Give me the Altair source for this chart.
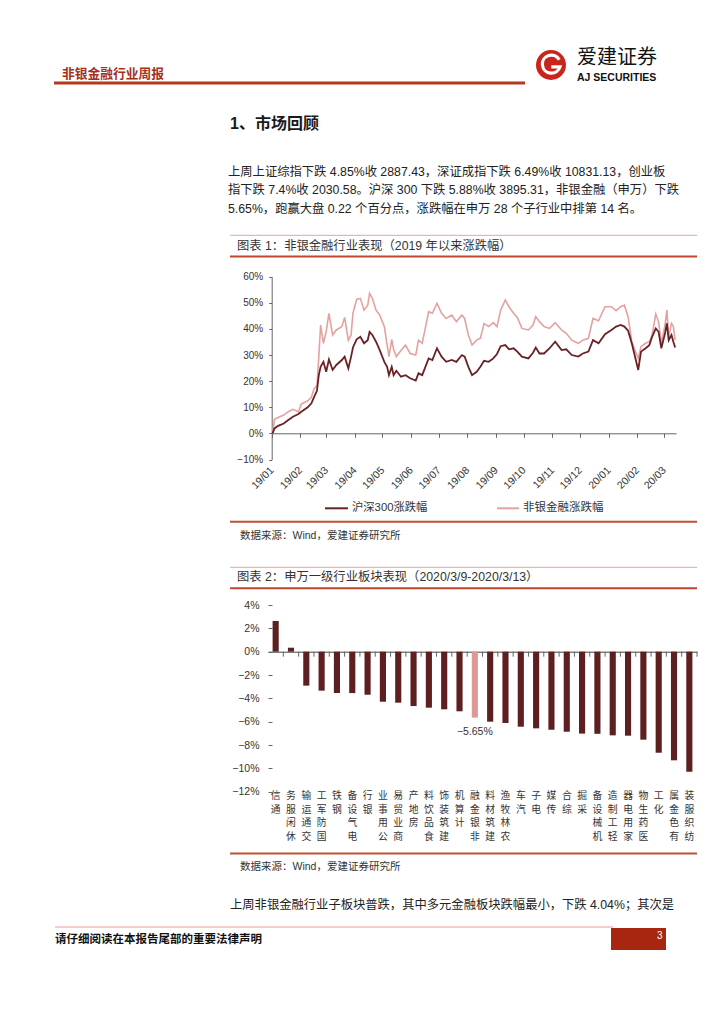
import altair as alt
import pandas as pd

# ---------------- data: chart 1 (cumulative change since 2019, %) ----------------
dates = [
    "2019-01-02", "2019-01-04", "2019-01-08", "2019-01-14", "2019-01-19", "2019-01-24",
    "2019-01-30", "2019-02-02", "2019-02-09", "2019-02-13", "2019-02-16", "2019-02-19",
    "2019-02-21", "2019-02-23", "2019-02-26", "2019-03-01", "2019-03-04", "2019-03-08",
    "2019-03-12", "2019-03-18", "2019-03-21", "2019-03-25", "2019-03-28", "2019-03-30",
    "2019-04-03", "2019-04-07", "2019-04-11", "2019-04-15", "2019-04-17", "2019-04-20",
    "2019-04-24", "2019-04-28", "2019-05-03", "2019-05-06", "2019-05-08", "2019-05-11",
    "2019-05-13", "2019-05-16", "2019-05-21", "2019-05-26", "2019-05-31", "2019-06-06",
    "2019-06-09", "2019-06-13", "2019-06-20", "2019-06-24", "2019-06-29", "2019-07-04",
    "2019-07-09", "2019-07-15", "2019-07-20", "2019-07-26", "2019-07-29", "2019-08-02",
    "2019-08-06", "2019-08-11", "2019-08-15", "2019-08-19", "2019-08-24", "2019-08-29",
    "2019-09-02", "2019-09-06", "2019-09-11", "2019-09-15", "2019-09-20", "2019-09-24",
    "2019-09-29", "2019-10-06", "2019-10-11", "2019-10-14", "2019-10-18", "2019-10-23",
    "2019-10-29", "2019-11-04", "2019-11-11", "2019-11-16", "2019-11-22", "2019-11-29",
    "2019-12-04", "2019-12-10", "2019-12-15", "2019-12-21", "2019-12-28", "2020-01-04",
    "2020-01-09", "2020-01-14", "2020-01-18", "2020-01-22", "2020-01-26", "2020-02-02",
    "2020-02-05", "2020-02-10", "2020-02-14", "2020-02-17", "2020-02-21", "2020-02-24",
    "2020-02-27", "2020-03-02", "2020-03-04", "2020-03-06", "2020-03-09", "2020-03-11",
    "2020-03-13",
]
hs300 = [
    0.0, 1.9, 2.9, 3.8, 5.1, 6.4, 7.4, 8.3, 10.0, 11.5, 14.0, 16.3,
    22.3, 25.5, 27.4, 23.6, 28.3, 24.3, 26.2, 28.1, 29.4, 24.9, 29.4, 32.9,
    36.0, 37.0, 34.5, 35.7, 38.9, 37.7, 35.1, 31.9, 27.4, 25.5, 22.3, 25.5,
    22.3, 24.0, 21.7, 22.3, 21.1, 20.2, 23.0, 22.3, 28.7, 28.1, 32.6, 29.4,
    27.4, 28.1, 27.4, 30.0, 29.4, 25.5, 22.3, 23.6, 25.5, 27.8, 27.4, 28.7,
    30.4, 33.4, 33.8, 32.2, 32.6, 31.3, 29.4, 28.7, 30.9, 32.9, 30.6, 30.6,
    32.6, 35.1, 31.9, 32.2, 30.0, 29.4, 30.6, 31.3, 35.7, 34.5, 38.0, 39.6,
    40.9, 41.5, 40.9, 39.3, 34.5, 24.3, 31.3, 32.6, 33.8, 37.0, 40.2, 38.9,
    32.6, 38.3, 42.1, 35.7, 37.7, 35.1, 32.9,
]
nonbank = [
    0.0, 5.4, 6.1, 7.0, 8.3, 9.2, 8.3, 11.2, 12.5, 13.8, 17.2, 18.1,
    29.4, 41.5, 34.5, 38.9, 46.0, 37.7, 39.6, 40.9, 44.4, 35.7, 37.7, 46.0,
    51.3, 51.7, 47.2, 49.1, 53.6, 51.7, 47.2, 45.3, 40.9, 33.8, 29.4, 36.0,
    32.2, 29.4, 31.7, 33.8, 30.6, 30.0, 35.7, 34.5, 46.6, 46.0, 49.8, 46.0,
    44.0, 45.3, 42.8, 45.3, 44.0, 37.7, 33.8, 35.7, 36.4, 42.1, 40.9, 42.4,
    40.9, 47.2, 51.1, 48.5, 46.0, 44.4, 40.2, 39.6, 41.5, 44.7, 42.8, 40.9,
    40.2, 42.4, 39.6, 38.3, 35.7, 34.5, 35.7, 36.4, 44.0, 43.1, 48.5, 48.5,
    47.0, 48.5, 49.1, 44.7, 35.1, 28.7, 33.2, 34.5, 35.1, 37.7, 45.7, 42.8,
    34.5, 41.5, 47.2, 37.0, 42.1, 40.9, 35.7,
]
series_hs = "沪深300涨跌幅"
series_nb = "非银金融涨跌幅"
y1_ticks = [-10, 0, 10, 20, 30, 40, 50, 60]
month_starts = [(2019, m) for m in range(1, 13)] + [(2020, 1), (2020, 2), (2020, 3)]

# ---------------- data: chart 2 (weekly change by SW industry, %) ----------------
industries = [
    "通信", "休闲服务", "交通运输", "国防军工", "钢铁", "电气设备", "银行",
    "公用事业", "商业贸易", "房地产", "食品饮料", "建筑装饰", "计算机", "非银金融",
    "建筑材料", "农林牧渔", "汽车", "电子", "传媒", "综合", "采掘",
    "机械设备", "轻工制造", "家用电器", "医药生物", "化工", "有色金属", "纺织服装",
]
changes = [
    2.63, 0.34, -2.91, -3.34, -3.54, -3.55, -3.69,
    -4.29, -4.37, -4.66, -4.80, -4.94, -5.11, -5.65,
    -6.00, -6.11, -6.43, -6.57, -6.69, -6.86, -7.02,
    -7.04, -7.17, -7.20, -7.54, -8.66, -9.31, -10.29,
]
highlight = "非银金融"
y2_ticks = [-12, -10, -8, -6, -4, -2, 0, 2, 4]

# ---------------- page texts ----------------
header_title = "非银金融行业周报"
logo_cn = "爱建证券"
logo_en = "AJ SECURITIES"
section_title = "1、市场回顾"
para_lines = [
    "上周上证综指下跌 4.85%收 2887.43，深证成指下跌 6.49%收 10831.13，创业板",
    "指下跌 7.4%收 2030.58。沪深 300 下跌 5.88%收 3895.31，非银金融（申万）下跌",
    "5.65%，跑赢大盘 0.22 个百分点，涨跌幅在申万 28 个子行业中排第 14 名。",
]
caption1 = "图表 1：非银金融行业表现（2019 年以来涨跌幅）"
caption2 = "图表 2：申万一级行业板块表现（2020/3/9-2020/3/13）"
source_text = "数据来源：Wind，爱建证券研究所"
para2 = "上周非银金融行业子板块普跌，其中多元金融板块跌幅最小，下跌 4.04%；其次是"
footer_text = "请仔细阅读在本报告尾部的重要法律声明"
page_no = "3"

# ---------------- styles ----------------
FONT = "Liberation Sans, Noto Sans CJK SC"
CJK = "Noto Sans CJK SC"
DARK = "#6A2126"
LIGHT = "#E3A29F"
BAR = "#5E1F21"
BAR_HL = "#DE9896"
BRICK = "#B5391F"
AXIS = "#666666"
TXT = "#222222"
W, H = 708, 1008


def gx(v):
    return v - 8


def gy(v):
    return v - 8


# ---------------- chart 1 ----------------
rows = []
for d, a, b in zip(dates, hs300, nonbank):
    rows.append({"date": d, "value": a, "series": series_hs})
    rows.append({"date": d, "value": b, "series": series_nb})
df1 = pd.DataFrame(rows)

x1 = alt.X(
    "date:T",
    scale=alt.Scale(
        type="utc",
        domain=[alt.DateTime(year=2019, month=1, date=1, utc=True),
                alt.DateTime(year=2020, month=3, date=14, utc=True)],
        range=[gx(271.7), gx(676.1)],
    ),
    axis=alt.Axis(
        orient="bottom", offset=gy(433.3) - H, title="",
        values=[alt.DateTime(year=y, month=m, date=1, utc=True) for y, m in month_starts],
        format="%y/%m", labelAngle=-45, labelAlign="right", labelBaseline="middle",
        labelPadding=31, labelFontSize=10.5, labelColor="#333", labelFont=FONT,
        labelOverlap=False, labelFlush=False, labelBound=False,
        grid=False, domainColor=AXIS, domainWidth=1, tickColor=AXIS, tickSize=4, tickWidth=1,
    ),
)
y1 = alt.Y(
    "value:Q",
    scale=alt.Scale(domain=[-10, 60], range=[gy(459.5), gy(276.7)], nice=False, zero=False),
    axis=alt.Axis(
        orient="left", offset=-gx(271.7), title="", values=y1_ticks,
        labelExpr="format(datum.value, 'd') + '%'", labelFontSize=10, labelColor="#333",
        labelFont=FONT, labelPadding=6, grid=False, domainColor=AXIS, domainWidth=1,
        tickColor=AXIS, tickSize=3, labelOverlap=False, labelFlush=False, labelBound=False,
    ),
)
line_nb = alt.Chart(df1).transform_filter(alt.datum.series == series_nb).mark_line(
    color=LIGHT, strokeWidth=1.6).encode(x=x1, y=y1)
line_hs = alt.Chart(df1).transform_filter(alt.datum.series == series_hs).mark_line(
    color=DARK, strokeWidth=1.8).encode(x=alt.X("date:T"), y=alt.Y("value:Q"))
chart1 = alt.layer(line_nb, line_hs)

# ---------------- chart 2 ----------------
df2 = pd.DataFrame({"industry": industries, "change": changes})
step = (697 - 268) / len(industries)

x2 = alt.X(
    "industry:N",
    scale=alt.Scale(domain=industries, range=[gx(268), gx(697)], paddingInner=0.6, paddingOuter=0.3),
    axis=alt.Axis(
        orient="bottom", offset=gy(651.7) - H, title="", ticks=False, tickSize=0,
        labelExpr="reverse(split(datum.label, ''))", labelAngle=0, labelAlign="center",
        labelBaseline="top", labelLineHeight=13.5, labelPadding=139, labelFontSize=9.8,
        labelColor="#333", labelFont=CJK, labelOverlap=False, labelBound=False, labelFlush=False,
        grid=False, domainColor="#444", domainWidth=1,
    ),
)
y2 = alt.Y(
    "change:Q",
    scale=alt.Scale(domain=[-12, 4], range=[gy(791.7), gy(605.0)], nice=False),
    axis=alt.Axis(
        orient="left", offset=-gx(272), title="", values=y2_ticks,
        labelExpr="format(datum.value, 'd') + '%'", labelFontSize=10.5, labelColor="#333",
        labelFont=FONT, labelPadding=9, grid=False, domain=False, tickColor=AXIS, tickSize=4,
        labelOverlap=False, labelFlush=False, labelBound=False,
    ),
)
bars = alt.Chart(df2).mark_bar().encode(
    x=x2, y=y2,
    color=alt.condition(alt.datum.industry == highlight, alt.value(BAR_HL), alt.value(BAR)),
)
bticks = alt.Chart(df2).mark_rule(color=AXIS, strokeWidth=1, xOffset=step / 2, y2Offset=5).encode(
    x=alt.X("industry:N"), y=alt.datum(0), y2=alt.datum(0))
blabel = alt.Chart(df2).transform_filter(alt.datum.industry == highlight).transform_calculate(
    lbl="format(datum.change, '.2f') + '%'"
).mark_text(dy=14, fontSize=10.5, font=FONT, color="#333").encode(
    x=alt.X("industry:N"), y=alt.Y("change:Q"), text="lbl:N")
chart2 = alt.layer(bars, bticks, blabel)

# ---------------- page decorations ----------------
base = alt.Chart(pd.DataFrame({"k": [0]}))
decos = []


def text(x, y, s, size, color=TXT, weight="normal", font=FONT, align="left"):
    decos.append(base.mark_text(align=align, baseline="middle", fontSize=size, font=font,
                                fontWeight=weight, color=color).encode(
        x=alt.value(gx(x)), y=alt.value(gy(y)), text=alt.value(s)))


def hline(x1_, x2_, y, color, w):
    decos.append(base.mark_rule(color=color, strokeWidth=w).encode(
        x=alt.value(gx(x1_)), x2=alt.value(gx(x2_)), y=alt.value(gy(y))))


def rect(x1_, x2_, y1_, y2_, color):
    decos.append(base.mark_rect(color=color).encode(
        x=alt.value(gx(x1_)), x2=alt.value(gx(x2_)), y=alt.value(gy(y1_)), y2=alt.value(gy(y2_))))


# header
text(62, 73.5, header_title, 12.75, color="#A5301C", weight="bold", font=CJK)
hline(54, 525, 83, BRICK, 3)
# logo
decos.append(base.mark_circle(size=900, color="#C8261C", opacity=1).encode(
    x=alt.value(gx(551)), y=alt.value(gy(65))))
decos.append(base.mark_point(
    shape="M 0.55 -0.35 A 0.6 0.6 0 1 0 0.6 0.12 L 0.02 0.12",
    size=900, filled=False, stroke="white", strokeWidth=3.2, opacity=1).encode(
    x=alt.value(gx(551)), y=alt.value(gy(65))))
text(577, 57.5, logo_cn, 20, color="#111", font=CJK)
text(577, 77.5, logo_en, 10.5, color="#111", weight="bold", font="Liberation Sans")

# section + paragraph
text(230, 124, section_title, 16, color="#1a1a1a", weight="bold", font=FONT)
for i, ln in enumerate(para_lines):
    text(228, 171.7 + 18.6 * i, ln, 12.3, color=TXT)

# chart 1 frame
hline(230, 697, 235.3, "#E8A595", 1)
text(237, 245.5, caption1, 12.3, color="#333")
hline(230, 697, 256.5, "#C0462C", 2)
hline(325, 348, 508.3, DARK, 2)
text(352, 508.3, series_hs, 11.3, color="#333")
hline(497, 519, 508.3, LIGHT, 2)
text(523, 508.3, series_nb, 11.5, color="#333")
hline(230, 697, 521.7, "#C0502F", 2)
text(240, 535.5, source_text, 10.5, color="#333")

# chart 2 frame
hline(230, 697, 567.3, "#E8A595", 1)
text(237, 577, caption2, 12.3, color="#333")
hline(230, 697, 588.3, "#C0462C", 2)
hline(230, 697, 853.5, "#C0502F", 2)
text(240, 867, source_text, 10.5, color="#333")

# trailing paragraph
text(230, 905, para2, 12.3, color=TXT)

# footer
hline(55, 613, 927, "#E89A9A", 1)
text(55, 940, footer_text, 11.5, color="#111", weight="bold", font=CJK)
rect(611, 666, 928, 950, "#A8260F")
text(657, 936, page_no, 10, color="white", font="Liberation Sans")

chart = alt.layer(chart1, chart2, *decos).resolve_scale(
    x="independent", y="independent"
).properties(
    width=W, height=H, autosize=alt.AutoSizeParams(type="none"), padding=0
).configure_view(stroke="transparent")

chart.save("out.html", embed_options={"renderer": "svg", "actions": False})
